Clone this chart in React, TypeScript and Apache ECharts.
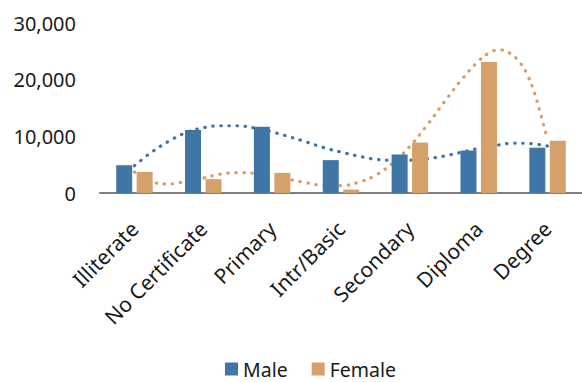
import React, { useEffect, useRef } from "react";
import * as echarts from "echarts";

// Education level breakdown by sex
const categories = [
  "Illiterate",
  "No Certificate",
  "Primary",
  "Intr/Basic",
  "Secondary",
  "Diploma",
  "Degree",
];
const maleValues = [4900, 11100, 11700, 5800, 6800, 7500, 8000];
const femaleValues = [3700, 2450, 3550, 600, 8900, 23100, 9200];

// Dotted trend curves, sampled at category positions (0 = first category)
const trendPos = [
  0, 0.25, 0.5, 0.75, 1, 1.25, 1.5, 1.75, 2, 2.25, 2.5, 2.75, 3, 3.25, 3.5,
  3.75, 4, 4.25, 4.5, 4.75, 5, 5.25, 5.5, 5.75, 6,
];
const maleTrend = [
  4800, 7200, 9140, 10650, 11520, 11870, 11870, 11450, 10780, 9920, 8990,
  8000, 7220, 6520, 5950, 5780, 5800, 6040, 6530, 7200, 7880, 8400, 8790,
  8720, 8280,
];
const femaleTrendPos = [
  0, 0.25, 0.5, 0.75, 1, 1.25, 1.5, 1.75, 2, 2.25, 2.5, 2.75, 3, 3.25, 3.5,
  3.75, 4, 4.25, 4.5, 4.75, 5, 5.15, 5.3, 5.45, 5.6, 5.7, 5.8, 5.9, 6,
];
const femaleTrend = [
  3700, 2000, 1600, 2050, 2650, 3330, 3600, 3450, 3060, 2400, 1800, 1330,
  1300, 1870, 3120, 5250, 8240, 11950, 16060, 19980, 23330, 24700, 25270,
  24700, 23000, 21000, 18000, 13900, 9400,
];

const yTicks = { min: 0, max: 30000, interval: 10000 };

const MALE_COLOR = "#4076a6";
const FEMALE_COLOR = "#d6a06a";
const TEXT_COLOR = "#1a1a1a";
const FONT = "'Noto Sans', 'Open Sans', sans-serif";

export default function App() {
  const ref = useRef<HTMLDivElement>(null);

  useEffect(() => {
    if (!ref.current) return;
    const chart = echarts.init(ref.current, undefined, { renderer: "svg" });
    const dotted = (color: string) => ({
      color,
      width: 3.2,
      type: [0.5, 7.6] as number[],
      cap: "round" as const,
    });
    chart.setOption({
      animation: false,
      backgroundColor: "#ffffff",
      textStyle: { fontFamily: FONT },
      grid: { left: 100, right: -10, top: 23, bottom: 189, containLabel: false },
      legend: {
        data: ["Male", "Female"],
        left: 220,
        top: 354,
        padding: 5,
        icon: "rect",
        itemWidth: 13,
        itemHeight: 13,
        itemGap: 24,
        textStyle: { fontSize: 19.5, color: TEXT_COLOR, fontFamily: FONT, lineHeight: 20 },
      },
      xAxis: [
        {
          type: "category",
          data: categories,
          axisLine: { lineStyle: { color: "#808080", width: 2 } },
          axisTick: { show: false },
          axisLabel: {
            rotate: 45,
            fontSize: 21,
            color: TEXT_COLOR,
            fontFamily: FONT,
            margin: 32,
            interval: 0,
          },
        },
        {
          type: "value",
          min: -0.5,
          max: 6.5,
          show: false,
        },
      ],
      yAxis: {
        type: "value",
        min: yTicks.min,
        max: yTicks.max,
        interval: yTicks.interval,
        splitLine: { show: false },
        axisLine: { show: false },
        axisTick: { show: false },
        axisLabel: {
          fontSize: 20,
          color: TEXT_COLOR,
          fontFamily: FONT,
          margin: 24,
          formatter: (v: number) => v.toLocaleString("en-US"),
        },
      },
      series: [
        {
          name: "Male",
          type: "bar",
          data: maleValues,
          barWidth: 16,
          barGap: "28%",
          itemStyle: { color: MALE_COLOR },
          z: 3,
        },
        {
          name: "Female",
          type: "bar",
          data: femaleValues,
          barWidth: 16,
          barGap: "28%",
          itemStyle: { color: FEMALE_COLOR },
          z: 3,
        },
        {
          name: "Male trend",
          type: "line",
          xAxisIndex: 1,
          data: trendPos.map((p, i) => [p, maleTrend[i]]),
          smooth: 0.4,
          showSymbol: false,
          lineStyle: dotted(MALE_COLOR),
          z: 2,
        },
        {
          name: "Female trend",
          type: "line",
          xAxisIndex: 1,
          data: femaleTrendPos.map((p, i) => [p, femaleTrend[i]]),
          smooth: 0.4,
          showSymbol: false,
          lineStyle: dotted(FEMALE_COLOR),
          z: 2,
        },
      ],
    });
    return () => chart.dispose();
  }, []);

  return (
    <div
      ref={ref}
      style={{ position: "fixed", left: 0, top: 0, width: 582, height: 382 }}
    />
  );
}
